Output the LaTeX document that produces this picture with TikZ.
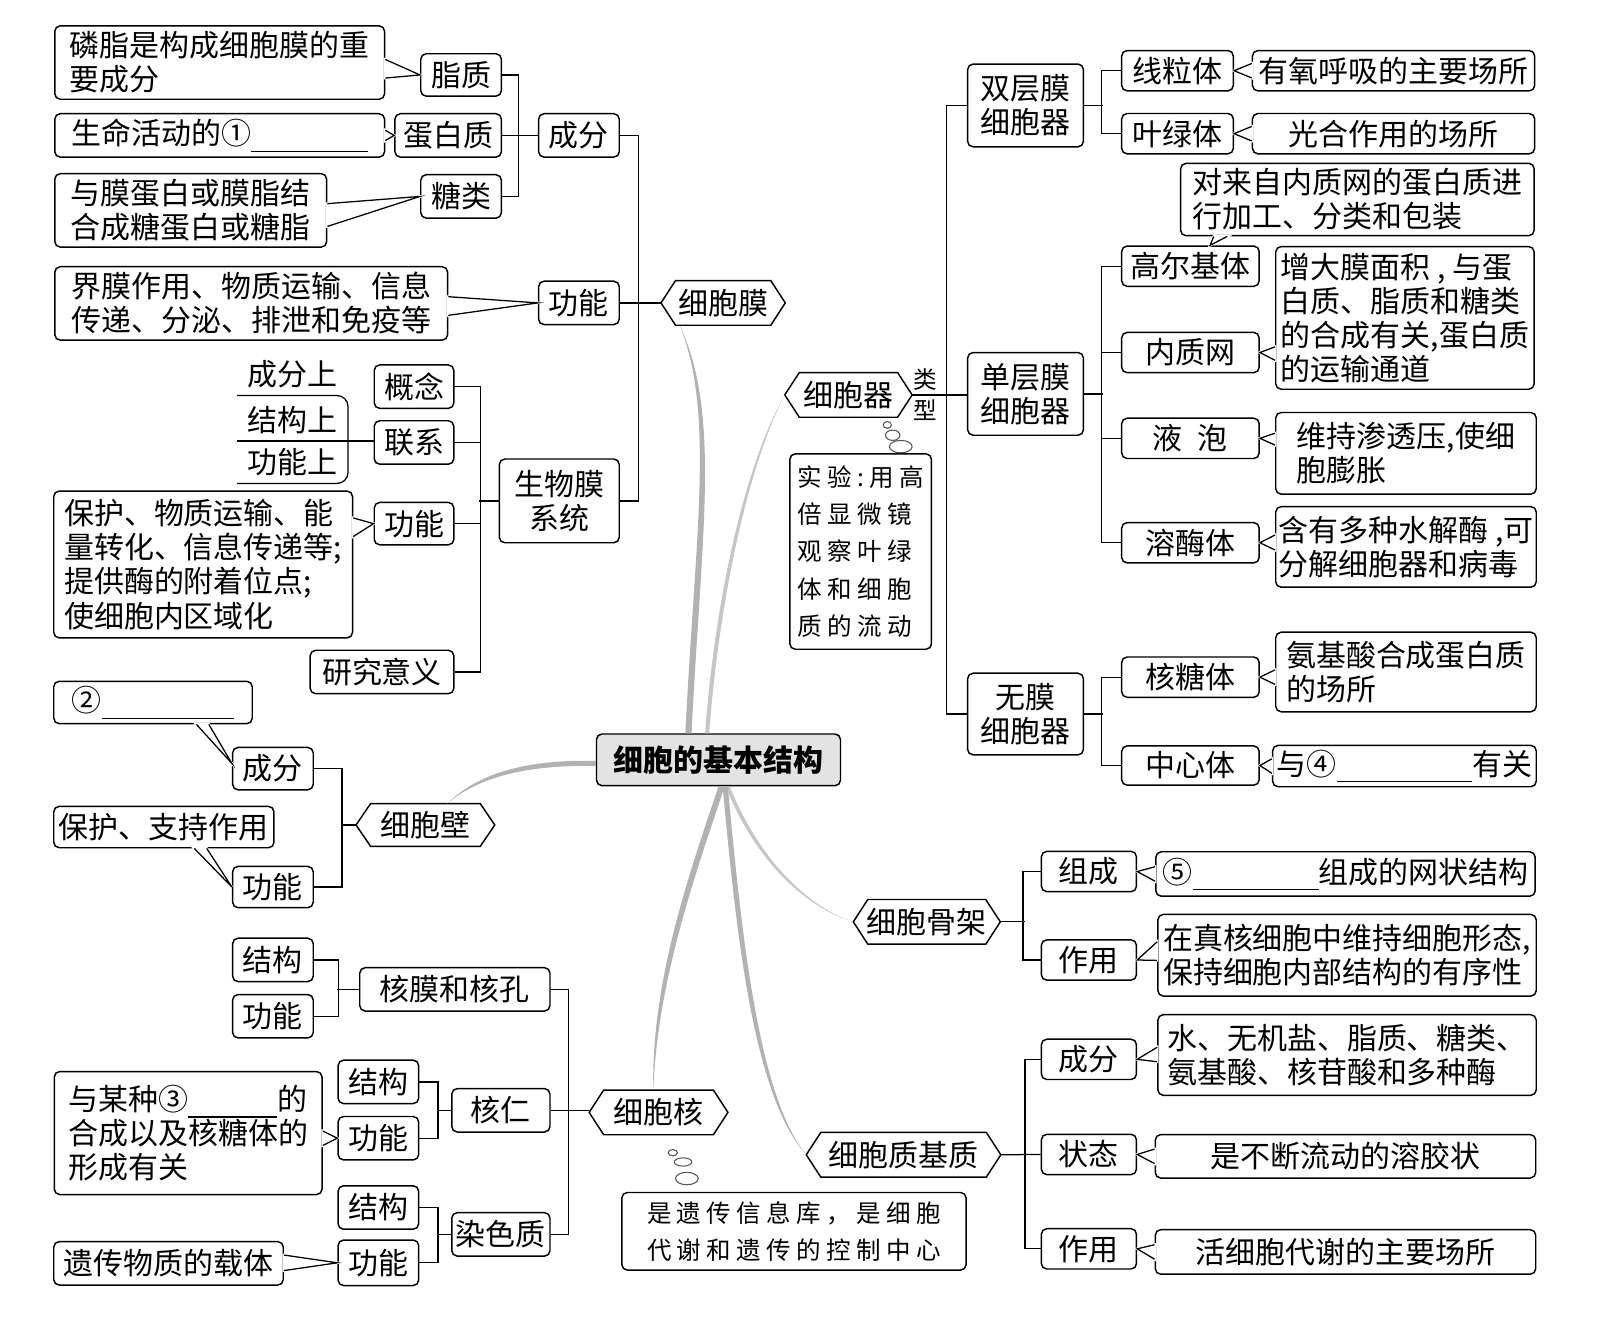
\documentclass[tikz,border=0pt]{standalone}
\usepackage{fontspec}
\setmainfont{Noto Sans CJK SC}
\newfontfamily\kai{Noto Sans CJK SC}[LetterSpace=22]
\usetikzlibrary{calc}

\tikzset{
  box/.style={draw, rounded corners=3pt, line width=0.8pt, fill=white, inner sep=1pt, align=center},
  note/.style={box, align=left},
  hexa/.style={inner sep=1pt},
  tag/.style={inner sep=0pt},
  sz/.style 2 args={minimum width=#1*0.02cm, minimum height=#2*0.02cm},
  stemfill/.style={fill=gray!60},
  bubble/.style={draw=gray!70!black, line width=0.6pt},
}

% blank line to fill in
\newcommand{\fillin}[1]{\rule[-4pt]{#1}{0.6pt}}
% speech-bubble pointer: base point, base point, tip
\newcommand{\speech}[3]{%
  \filldraw[white, line width=1.4pt] #1 -- #3 -- #2 -- cycle;
  \draw #1 -- #3 -- #2;}
% tapered gray stem: start, control, control, end, width offset
\newcommand{\stem}[6][stemfill]{%
  \fill[#1] #2 .. controls #3 and #4 .. #5
    .. controls ($#4+#6$) and ($#3+#6$) .. ($#2+#6$) -- cycle;}

\begin{document}
\begin{tikzpicture}[x=0.02cm, y=-0.02cm, line width=0.7pt,
    font=\fontsize{16.5}{18.8}\selectfont]
  \useasboundingbox (0,0) rectangle (1568,1285);

  % centre
  \node[box, sz={236}{50}, fill=gray!22, font=\bfseries\fontsize{16.5}{18.8}\selectfont] (root) at (695,735) {细胞的基本结构};

  % cell membrane
  \node[box, sz={78}{41}] (lip) at (446,72.5) {脂质};
  \node[note, sz={319}{71}] (lipd) at (212.5,60.5) {磷脂是构成细胞膜的重\\要成分};
  \node[box, sz={103}{42}] (prot) at (433.5,131) {蛋白质};
  \node[note, sz={319}{42}] (protd) at (212.5,131) {生命活动的①\fillin{2.26cm}};
  \node[box, sz={78}{42}] (sug) at (446,190) {糖类};
  \node[note, sz={263}{71}] (sugd) at (184.5,203.5) {与膜蛋白或膜脂结\\合成糖蛋白或糖脂};
  \node[box, sz={78}{42}] (mcomp) at (560,131) {成分};
  \node[box, sz={78}{42}] (mfunc) at (560,293) {功能};
  \node[note, sz={380}{71}] (mfuncd) at (243,293.5) {界膜作用、物质运输、信息\\传递、分泌、排泄和免疫等};
  \node[hexa, sz={119}{42}] (mem) at (699.5,293) {细胞膜};

  % biomembrane system
  \node[tag, sz={106}{40}] (t1) at (283,362) {成分上};
  \node[tag, sz={106}{40}] (t2) at (283,406) {结构上};
  \node[tag, sz={106}{40}] (t3) at (283,447) {功能上};
  \node[box, sz={77}{42}] (concept) at (400.5,374) {概念};
  \node[box, sz={77}{42}] (link) at (400.5,428) {联系};
  \node[box, sz={77}{41}] (bfunc) at (400.5,506.5) {功能};
  \node[box, sz={139}{42}] (signif) at (369.5,650) {研究意义};
  \node[note, sz={289}{142}] (bfuncd) at (196.5,546) {保护、物质运输、能\\量转化、信息传递等;\\提供酶的附着位点;\\使细胞内区域化};
  \node[box, sz={116}{81}] (biosys) at (541,484.5) {生物膜\\系统};

  % cell wall
  \node[note, sz={192}{41}] (q2) at (148,679.5) {②\fillin{2.56cm}};
  \node[box, sz={78}{41}] (wcomp) at (264,743.5) {成分};
  \node[note, sz={213}{40}] (wallfd) at (158.5,800) {保护、支持作用};
  \node[box, sz={78}{40}] (wfunc) at (264,858) {功能};
  \node[hexa, sz={133}{40}] (wall) at (411.5,798) {细胞壁};

  % nucleus
  \node[box, sz={78}{42}] (envs) at (264,928.5) {结构};
  \node[box, sz={78}{42}] (envf) at (264,983) {功能};
  \node[box, sz={184}{42}] (env) at (440,957) {核膜和核孔};
  \node[box, sz={78}{42}] (nls) at (366,1046.5) {结构};
  \node[box, sz={78}{42}] (nlf) at (366,1101) {功能};
  \node[box, sz={95}{42}] (nl) at (484.5,1074) {核仁};
  \node[note, sz={259}{119}] (nld) at (182,1096) {与某种③\fillin{1.72cm}的\\合成以及核糖体的\\形成有关};
  \node[box, sz={78}{42}] (crs) at (366,1168) {结构};
  \node[box, sz={78}{44}] (crf) at (366,1221.5) {功能};
  \node[box, sz={95}{42}] (chr) at (484.5,1194) {染色质};
  \node[note, sz={222}{42}] (crfd) at (163,1222) {遗传物质的载体};
  \node[hexa, sz={133}{42}] (nuc) at (637,1076) {细胞核};
  \node[note, sz={333}{75}, font=\kai\fontsize{13.5}{20.5}\selectfont] (nucd) at (768,1191) {是遗传信息库，是细胞\\代谢和遗传的控制中心};

  % organelles
  \node[hexa, sz={122}{42}] (org) at (820.7,382) {细胞器};
  \node[tag, align=center, font=\fontsize{13}{17}\selectfont] (typ) at (895,382) {类\\型};
  \node[note, sz={137}{189}, font=\kai\fontsize{13.5}{20.5}\selectfont] (orgd) at (832.5,533.5) {实验:用高\\倍显微镜\\观察叶绿\\体和细胞\\质的流动};
  \node[box, sz={112}{80}] (dbl) at (992,102) {双层膜\\细胞器};
  \node[box, sz={108}{39}] (mito) at (1139,68.4) {线粒体};
  \node[box, sz={273}{39}] (mitod) at (1348,68.4) {有氧呼吸的主要场所};
  \node[box, sz={108}{39}] (chl) at (1139,129.3) {叶绿体};
  \node[box, sz={273}{39}] (chld) at (1348,129.3) {光合作用的场所};
  \node[note, sz={342}{70}] (golgid) at (1313,193) {对来自内质网的蛋白质进\\行加工、分类和包装};
  \node[box, sz={133}{39}] (golgi) at (1151.5,257.5) {高尔基体};
  \node[note, sz={250}{138}] (erd) at (1359,307.5) {增大膜面积 , 与蛋\\白质、脂质和糖类\\的合成有关,蛋白质\\的运输通道};
  \node[box, sz={133}{39}] (er) at (1151.5,341) {内质网};
  \node[box, sz={133}{39}] (vac) at (1151.5,424) {液\hspace{0.5em}泡};
  \node[note, sz={252}{79}] (vacd) at (1360,438.5) {维持渗透压,使细\\胞膨胀};
  \node[box, sz={133}{39}] (lyso) at (1151.5,525) {溶酶体};
  \node[note, sz={252}{78}] (lysod) at (1360,529) {含有多种水解酶 ,可\\分解细胞器和病毒};
  \node[box, sz={112}{80}] (sgl) at (992,381) {单层膜\\细胞器};
  \node[box, sz={112}{79}] (nomem) at (992,690.7) {无膜\\细胞器};
  \node[box, sz={133}{39}] (ribo) at (1151.5,655) {核糖体};
  \node[note, sz={252}{77}] (ribod) at (1360,650) {氨基酸合成蛋白质\\的场所};
  \node[box, sz={133}{38}] (cent) at (1151.5,740.5) {中心体};
  \node[note, sz={255}{40}] (centd) at (1358.5,741) {与④\fillin{2.62cm}有关};

  % cytoskeleton
  \node[hexa, sz={141}{42}] (skel) at (896.5,891.7) {细胞骨架};
  \node[box, sz={92}{39}] (skc) at (1053.3,843) {组成};
  \node[note, sz={367}{43}] (skcd) at (1301.5,845.4) {⑤\fillin{2.44cm}组成的网状结构};
  \node[box, sz={92}{39}] (skf) at (1053.3,928.6) {作用};
  \node[note, sz={366}{79}] (skfd) at (1303,924) {在真核细胞中维持细胞形态,\\保持细胞内部结构的有序性};

  % cytosol
  \node[hexa, sz={187}{42}] (cyto) at (874,1117) {细胞质基质};
  \node[box, sz={92}{39}] (cyc) at (1053.3,1024.7) {成分};
  \node[note, sz={366}{78}] (cycd) at (1303,1020.5) {水、无机盐、脂质、糖类、\\氨基酸、核苷酸和多种酶};
  \node[box, sz={92}{39}] (cys) at (1053.3,1116.7) {状态};
  \node[box, sz={368}{42}] (cysd) at (1301.5,1118.5) {是不断流动的溶胶状};
  \node[box, sz={92}{39}] (cyf) at (1053.3,1208) {作用};
  \node[box, sz={368}{43}] (cyfd) at (1301.5,1211) {活细胞代谢的主要场所};

  % hexagon outlines
  \foreach \h in {mem,wall,nuc,org,skel,cyto}
    \draw[line width=0.8pt] (\h.west) -- ([xshift=8pt]\h.north west) -- ([xshift=-8pt]\h.north east)
      -- (\h.east) -- ([xshift=-8pt]\h.south east) -- ([xshift=8pt]\h.south west) -- cycle;

  % stems from the centre
  \coordinate (s1) at ($(root.north)+(-32,0)$);
  \coordinate (e1) at ($(mem.south west)+(18,0)$);
  \stem{(s1)}{(672,520)}{(692,400)}{(e1)}{(6,0)}
  \coordinate (s2) at ($(root.north)+(-13,0)$);
  \stem[fill=gray!45]{(s2)}{(690,600)}{(715,460)}{(org.west)}{(4,0)}
  \coordinate (s3) at ($(root.west)+(0,1)$);
  \coordinate (e3) at ($(wall.north east)+(-46,0)$);
  \stem{(s3)}{(530,735)}{(470,740)}{(e3)}{(0,5)}
  \coordinate (e4) at ($(nuc.north west)+(62,0)$);
  \stem{(root.south)}{(665,850)}{(630,950)}{(e4)}{(6,0)}
  \coordinate (s5) at ($(root.south)+(7,0)$);
  \stem[fill=gray!45]{(s5)}{(725,820)}{(770,875)}{(skel.west)}{(4,0)}
  \coordinate (s6) at ($(root.south)+(4,0)$);
  \stem{(s6)}{(712,900)}{(728,1060)}{(cyto.west)}{(5,0)}

  % thought bubbles
  \draw[bubble] (858.3,411) ellipse [x radius=0.08cm, y radius=0.065cm];
  \draw[bubble] (863.5,421) ellipse [x radius=0.14cm, y radius=0.1cm];
  \draw[bubble] (871.3,432) ellipse [x radius=0.22cm, y radius=0.12cm];
  \draw[bubble] (650.8,1115) ellipse [x radius=0.09cm, y radius=0.06cm];
  \draw[bubble] (660.7,1124) ellipse [x radius=0.17cm, y radius=0.08cm];
  \draw[bubble] (664.4,1140) ellipse [x radius=0.22cm, y radius=0.12cm];

  % brackets
  \draw (lip.east) -- ++(16,0) |- (sug.east);
  \draw (prot.east) -- (mcomp.west);
  \draw (mcomp.east) -- ++(18,0) |- (biosys.east);
  \draw (mfunc.east) -- (mem.west);
  \draw (concept.east) -- ++(25,0) |- (signif.east);
  \draw (link.east) -- ++(25,0);
  \draw (bfunc.east) -- ++(25,0);
  \draw (biosys.west) -- ++(-19,0);
  \draw[rounded corners=6pt] (t1.south west) -- (t1.south east) -- (t3.south east) -- (t3.south west);
  \draw (t2.south west) -- (t2.south -| link.west);
  \draw (wcomp.east) -- ++(27,0) |- (wfunc.east);
  \draw (wall.west) -- ++(-15,0);
  \draw (envs.east) -- ++(24,0) |- (envf.east);
  \draw (env.west) -- ++(-21,0);
  \draw (nls.east) -- ++(18,0) |- (nlf.east);
  \draw (nl.west) -- ++(-14,0);
  \draw (crs.east) -- ++(18,0) |- (crf.east);
  \draw (chr.west) -- ++(-14,0);
  \draw (env.east) -- ++(17,0) |- (chr.east);
  \draw (nl.east) -- (nl.east -| nuc.west);
  \draw (org.east) -- (org.east -| sgl.west);
  \draw (dbl.west) -- ++(-20,0) |- (nomem.west);
  \draw (mito.west) -- ++(-19,0) |- (chl.west);
  \draw (dbl.east) -- ++(18,0);
  \draw (golgi.west) -- ++(-19,0) |- (lyso.west);
  \draw (er.west) -- ++(-19,0);
  \draw (vac.west) -- ++(-19,0);
  \draw (sgl.east) -- ++(18,0);
  \draw (ribo.west) -- ++(-19,0) |- (cent.west);
  \draw (nomem.east) -- ++(18,0);
  \draw (skc.west) -- ++(-17,0) |- (skf.west);
  \draw (skel.east) -- ++(23.5,0);
  \draw (cyc.west) -- ++(-15,0) |- (cyf.west);
  \draw (cyto.east) -- (cys.west);

  % pointers
  \speech{($(lipd.east)+(0,-3)$)}{($(lipd.east)+(0,15)$)}{(lip.west)}
  \speech{($(protd.east)+(0,-5)$)}{($(protd.east)+(0,5)$)}{(prot.west)}
  \speech{($(sugd.east)+(0,-6.5)$)}{($(sugd.east)+(0,15.5)$)}{(sug.west)}
  \speech{($(mfuncd.east)+(0,-6.5)$)}{($(mfuncd.east)+(0,11.5)$)}{(mfunc.west)}
  \speech{($(bfuncd.east)+(0,-45)$)}{($(bfuncd.east)+(0,-27)$)}{(bfunc.west)}
  \speech{($(q2.south)+(42,0)$)}{($(q2.south)+(54,0)$)}{($(wcomp.west)+(0,-5)$)}
  \speech{($(wallfd.south)+(29.5,0)$)}{($(wallfd.south)+(41.5,0)$)}{(wfunc.west)}
  \speech{($(nld.east)+(0,-2)$)}{($(nld.east)+(0,12)$)}{(nlf.west)}
  \speech{($(crfd.east)+(0,-8)$)}{($(crfd.east)+(0,7)$)}{(crf.west)}
  \speech{($(golgid.south)+(-139,0)$)}{($(golgid.south)+(-126,0)$)}{($(golgi.north)+(19,0)$)}
  \speech{($(mitod.west)+(0,-7)$)}{($(mitod.west)+(0,7)$)}{(mito.east)}
  \speech{($(chld.west)+(0,-7)$)}{($(chld.west)+(0,7)$)}{(chl.east)}
  \speech{($(erd.west)+(0,28)$)}{($(erd.west)+(0,41)$)}{(er.east)}
  \speech{($(vacd.west)+(0,-19.5)$)}{($(vacd.west)+(0,-8)$)}{(vac.east)}
  \speech{($(lysod.west)+(0,-11.5)$)}{($(lysod.west)+(0,3)$)}{(lyso.east)}
  \speech{($(ribod.west)+(0,-2)$)}{($(ribod.west)+(0,12)$)}{(ribo.east)}
  \speech{($(centd.west)+(0,-7)$)}{($(centd.west)+(0,7)$)}{(cent.east)}
  \speech{($(skcd.west)+(0,-7)$)}{($(skcd.west)+(0,7)$)}{(skc.east)}
  \speech{($(skfd.west)+(0,-13)$)}{($(skfd.west)+(0,5)$)}{(skf.east)}
  \speech{($(cycd.west)+(0,-7.5)$)}{($(cycd.west)+(0,6.5)$)}{(cyc.east)}
  \speech{($(cysd.west)+(0,-7)$)}{($(cysd.west)+(0,7)$)}{(cys.east)}
  \speech{($(cyfd.west)+(0,-7)$)}{($(cyfd.west)+(0,7)$)}{(cyf.east)}
\end{tikzpicture}
\end{document}
